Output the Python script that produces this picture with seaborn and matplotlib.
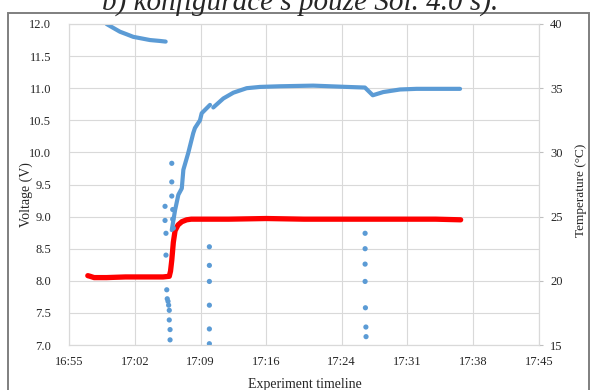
import matplotlib
matplotlib.use("Agg")
import matplotlib.pyplot as plt
import matplotlib.dates as mdates
from matplotlib.patches import Rectangle
import pandas as pd
import seaborn as sns

# ---- data -------------------------------------------------------------
day = "2020-01-01 "

# supply voltage (left axis)
volt_time = ["16:57:00", "16:57:15", "16:57:40", "16:59:00", "17:01:00", "17:03:00",
             "17:05:00", "17:05:40", "17:05:48", "17:05:56", "17:06:06", "17:06:17",
             "17:06:36", "17:07:00", "17:07:31", "17:08:00", "17:12:00", "17:16:00",
             "17:20:00", "17:25:00", "17:30:00", "17:34:00", "17:36:40"]
volt_value = [8.08, 8.07, 8.05, 8.05, 8.06, 8.06,
              8.06, 8.07, 8.15, 8.32, 8.60, 8.78,
              8.87, 8.92, 8.95, 8.96, 8.96, 8.97,
              8.96, 8.96, 8.96, 8.96, 8.95]

# temperature trace (right axis), recorded in three runs
temp_time_a = ["16:59:00", "16:59:42", "17:00:25", "17:01:08", "17:01:50",
               "17:02:33", "17:03:37", "17:04:40", "17:05:17"]
temp_value_a = [40.0, 39.7, 39.4, 39.2, 39.0, 38.9, 38.75, 38.68, 38.63]

temp_time_b = ["17:05:56", "17:06:17", "17:06:38", "17:07:00", "17:07:10", "17:07:41",
               "17:08:13", "17:08:24", "17:08:56", "17:09:07", "17:10:00"]
temp_value_b = [23.95, 25.5, 26.7, 27.2, 28.65, 29.95, 31.5, 31.9, 32.5, 33.05, 33.7]

temp_time_c = ["17:10:21", "17:11:25", "17:12:29", "17:13:54", "17:15:19", "17:17:27",
               "17:20:59", "17:24:33", "17:26:29", "17:27:19", "17:28:26", "17:30:13",
               "17:31:59", "17:36:36"]
temp_value_c = [33.5, 34.2, 34.65, 35.0, 35.1, 35.15,
                35.2, 35.1, 35.05, 34.45, 34.7, 34.9,
                34.95, 34.95]

# isolated temperature readings
spike_time = ["17:05:56", "17:05:56", "17:05:56", "17:05:13", "17:06:02", "17:05:13",
              "17:06:02", "17:05:19", "17:06:06", "17:05:19", "17:05:24", "17:05:27",
              "17:05:32", "17:05:36", "17:05:40", "17:05:40", "17:05:45", "17:05:45",
              "17:09:56", "17:09:56", "17:09:56", "17:09:56", "17:09:56", "17:09:56",
              "17:26:30", "17:26:30", "17:26:30", "17:26:30", "17:26:32", "17:26:35",
              "17:26:36"]
spike_value = [29.15, 27.7, 26.6, 25.8, 25.55, 24.7,
               24.8, 23.7, 24.1, 22.0, 19.3, 18.6,
               18.4, 18.1, 17.7, 16.95, 16.2, 15.4,
               22.65, 21.2, 19.95, 18.1, 16.25, 15.1,
               23.7, 22.5, 21.3, 19.95, 17.9, 16.4,
               15.65]

x_ticks = ["16:55", "17:02", "17:09", "17:16", "17:24", "17:31", "17:38", "17:45"]
volt_ticks = [7.0, 7.5, 8.0, 8.5, 9.0, 9.5, 10.0, 10.5, 11.0, 11.5, 12.0]
temp_ticks = [15, 20, 25, 30, 35, 40]


def stamp(times):
    return pd.to_datetime([day + t for t in times])


volt_df = pd.DataFrame({"time": stamp(volt_time), "value": volt_value})
temp_runs = [pd.DataFrame({"time": stamp(t), "value": v})
             for t, v in [(temp_time_a, temp_value_a),
                          (temp_time_b, temp_value_b),
                          (temp_time_c, temp_value_c)]]
spike_df = pd.DataFrame({"time": stamp(spike_time), "value": spike_value})

# ---- figure -----------------------------------------------------------
sns.set_style("white")
plt.rcParams["font.family"] = ["Liberation Serif", "DejaVu Serif"]

BLUE = "#5B9BD5"
RED = "#FF0000"
GRID = "#D9D9D9"

fig = plt.figure(figsize=(5.95, 3.9), dpi=100)
ax = fig.add_axes([69 / 595, 1 - 345 / 390, 470 / 595, 321 / 390])
ax2 = ax.twinx()

sns.lineplot(data=volt_df, x="time", y="value", ax=ax, color=RED, lw=3.8,
             sort=False, estimator=None, solid_capstyle="round", zorder=3)

for run in temp_runs:
    sns.lineplot(data=run, x="time", y="value", ax=ax2, color=BLUE, lw=3.0,
                 sort=False, estimator=None, solid_capstyle="round")
sns.scatterplot(data=spike_df, x="time", y="value", ax=ax2, color=BLUE,
                s=14, edgecolor="none")

tick_pos = stamp([t + ":00" for t in x_ticks])
ax.set_xlim(tick_pos[0], tick_pos[-1])
ax.set_xticks(tick_pos)
ax.xaxis.set_major_formatter(mdates.DateFormatter("%H:%M"))

ax.set_ylim(7.0, 12.0)
ax.set_yticks(volt_ticks)
ax.set_yticklabels([f"{v:.1f}" for v in volt_ticks])
ax2.set_ylim(15, 40)
ax2.set_yticks(temp_ticks)

ax.grid(True, color=GRID, lw=0.8)
ax2.grid(False)
for a in (ax, ax2):
    for sp in a.spines.values():
        sp.set_color(GRID)
        sp.set_linewidth(0.8)

ax.tick_params(axis="x", length=3, color=GRID, pad=5, labelsize=9)
ax.tick_params(axis="y", length=0, pad=13, labelsize=9)
ax2.tick_params(axis="y", length=3, color="#BFBFBF", pad=5, labelsize=9)

ax.set_xlabel("Experiment timeline", fontsize=10)
ax.set_ylabel("Voltage (V)", fontsize=10)
ax2.set_ylabel("Temperature (°C)", fontsize=9.5, rotation=90)
ax.xaxis.set_label_coords(0.502, -0.103)
ax.yaxis.set_label_coords(-0.077, 0.47)
ax2.yaxis.set_label_coords(1.076, 0.483)

# chart frame
fig.patches.append(Rectangle((8 / 595, -0.01), 581 / 595, 1 - 13 / 390 + 0.01,
                             transform=fig.transFigure, fill=False,
                             edgecolor="#7F7F7F", lw=1.4))

# caption line above the chart
fig.text(0.505, 1 - 11 / 390, "b) konfigurace s pouze Sol. 4.0 s).",
         ha="center", va="baseline", fontsize=21, style="italic")

fig.savefig("out.png", dpi=100)
